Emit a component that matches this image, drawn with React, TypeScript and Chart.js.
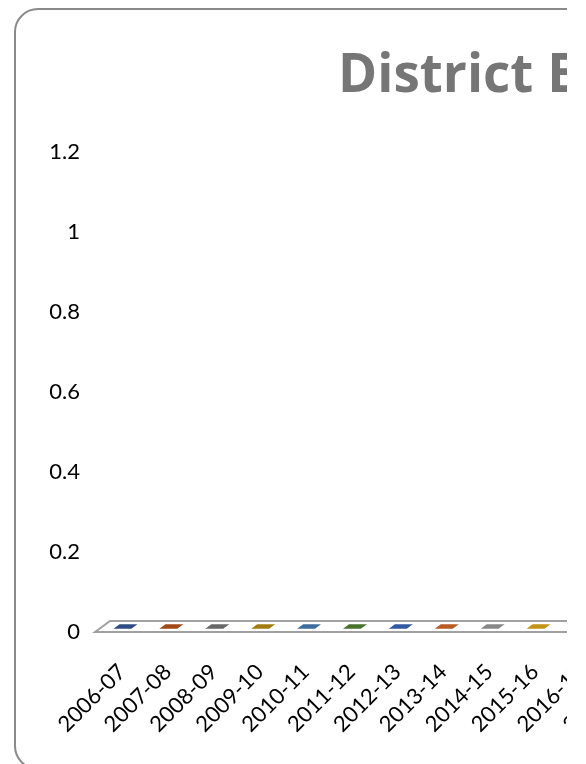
import React, { useEffect, useRef } from 'react';
import { Chart, registerables, layouts } from 'chart.js';

Chart.register(...registerables);

// ---- data ----
const TITLE = 'District Enrolment';
const categories = [
  '2006-07', '2007-08', '2008-09', '2009-10', '2010-11', '2011-12', '2012-13',
  '2013-14', '2014-15', '2015-16', '2016-17', '2017-18', '2018-19', '2019-20', '2020-21',
];
const values = [0, 0, 0, 0, 0, 0, 0, 0, 0, 0, 0, 0, 0, 0, 0];
const yMin = 0;
const yMax = 1.2;
const yStep = 0.2;

// ---- styles ----
const barColors = [
  '#2E4C86', '#A14A17', '#686868', '#A27C0C', '#3E6E9E', '#48722E', '#3358A2',
  '#BA5B23', '#878787', '#C29314', '#4F7FB8', '#5C8C3C', '#2E4C86', '#A14A17', '#686868',
];
const FONT = 'Lato';
const TITLE_FONT = 'Open Sans';
const TITLE_SIZE = 53;
const CANVAS_H = 756;
const TITLE_ORIGIN = 324; // canvas x where the title text begins
const AXIS_W = 81;
const CAT_W = 45.9;
const X_AXIS_H = 132;
const DEPTH_DX = 15;
const DEPTH_DY = -11;

export default function App() {
  const canvasRef = useRef<HTMLCanvasElement>(null);
  const boxRef = useRef<HTMLDivElement>(null);

  useEffect(() => {
    document.documentElement.style.overflow = 'hidden';
    const canvas = canvasRef.current as HTMLCanvasElement;
    const mctx = canvas.getContext('2d') as CanvasRenderingContext2D;
    mctx.font = `bold ${TITLE_SIZE}px "${TITLE_FONT}"`;
    const T = mctx.measureText(TITLE).width;
    const W = Math.round(2 * TITLE_ORIGIN + T);
    const spacerW = Math.max(0, W - AXIS_W - CAT_W * categories.length);

    canvas.width = W;
    canvas.height = CANVAS_H;
    canvas.style.width = W + 'px';
    canvas.style.height = CANVAS_H + 'px';
    if (boxRef.current) boxRef.current.style.width = W + 'px';

    const spacer: any = {
      position: 'right',
      weight: 0,
      fullSize: false,
      options: { stackWeight: 1 },
      width: 0, height: 0, left: 0, top: 0, right: 0, bottom: 0,
      isHorizontal() { return false; },
      update(_w: number, h: number) { this.width = spacerW; this.height = h; },
      draw() {},
    };

    const spacerPlugin = {
      id: 'rightSpacer',
      beforeInit(chart: any) { layouts.addBox(chart, spacer); },
    };

    const floorPlugin = {
      id: 'floor3d',
      beforeDatasetsDraw(chart: any) {
        const { ctx, chartArea } = chart;
        const y0 = chart.scales.y.getPixelForValue(0);
        const { left, right } = chartArea;
        ctx.save();
        ctx.beginPath();
        ctx.moveTo(left, y0);
        ctx.lineTo(left + DEPTH_DX, y0 + DEPTH_DY);
        ctx.lineTo(right + DEPTH_DX, y0 + DEPTH_DY);
        ctx.lineTo(right, y0);
        ctx.closePath();
        ctx.fillStyle = '#FFFFFF';
        ctx.fill();
        ctx.strokeStyle = '#A0A0A0';
        ctx.lineWidth = 2;
        ctx.stroke();
        ctx.restore();
      },
    };

    const bars3dPlugin = {
      id: 'bars3d',
      beforeDatasetDraw() { return false; },
      afterDatasetsDraw(chart: any) {
        const { ctx } = chart;
        const f0 = 0.3, f1 = 0.7;
        const fx = DEPTH_DX * f0, fy = DEPTH_DY * f0;
        const bx = DEPTH_DX * f1, by = DEPTH_DY * f1;
        ctx.save();
        chart.data.datasets.forEach((_ds: any, di: number) => {
          const meta = chart.getDatasetMeta(di);
          meta.data.forEach((el: any) => {
            const { x, y, base, width } = el.getProps(['x', 'y', 'base', 'width'], true);
            const color = el.options.backgroundColor;
            const l = x - width / 2;
            const r = x + width / 2;
            ctx.fillStyle = color;
            if (Math.abs(base - y) > 0.5) {
              ctx.fillRect(l + fx, y + fy, width, base - y);
              ctx.beginPath();
              ctx.moveTo(r + fx, y + fy);
              ctx.lineTo(r + bx, y + by);
              ctx.lineTo(r + bx, base + by);
              ctx.lineTo(r + fx, base + fy);
              ctx.closePath();
              ctx.fill();
            }
            ctx.beginPath();
            ctx.moveTo(l + fx, y + fy);
            ctx.lineTo(r + fx, y + fy);
            ctx.lineTo(r + bx, y + by);
            ctx.lineTo(l + bx, y + by);
            ctx.closePath();
            ctx.fill();
          });
        });
        ctx.restore();
      },
    };

    const chart = new Chart(canvas, {
      type: 'bar',
      data: {
        labels: categories,
        datasets: [
          {
            label: TITLE,
            data: values,
            backgroundColor: barColors,
            borderWidth: 0,
            barPercentage: 0.39,
            categoryPercentage: 1,
          },
        ],
      },
      options: {
        responsive: false,
        animation: false,
        events: [],
        layout: { padding: 0 },
        plugins: {
          legend: { display: false },
          tooltip: { enabled: false },
          title: {
            display: true,
            text: TITLE,
            color: '#767676',
            align: 'center',
            font: { family: TITLE_FONT, size: TITLE_SIZE, weight: 'bold', lineHeight: 1.2 },
            padding: { top: 37, bottom: 43 },
          },
        },
        scales: {
          x: {
            type: 'category',
            offset: true,
            grid: { display: false, drawTicks: false },
            border: { display: false },
            ticks: {
              autoSkip: false,
              minRotation: 45,
              maxRotation: 45,
              padding: 27,
              labelOffset: 4,
              color: '#000000',
              font: { family: FONT, size: 22 },
            },
            afterFit(scale: any) { scale.height = X_AXIS_H; },
          },
          y: {
            min: yMin,
            max: yMax,
            grid: { display: false, drawTicks: false },
            border: { display: false },
            ticks: {
              stepSize: yStep,
              padding: 15,
              color: '#000000',
              font: { family: FONT, size: 22 },
              callback: (v: any) => String(Math.round(Number(v) * 10) / 10),
            },
            afterFit(scale: any) { scale.width = AXIS_W; },
          },
        },
      },
      plugins: [spacerPlugin, floorPlugin, bars3dPlugin],
    } as any);

    return () => {
      chart.destroy();
    };
  }, []);

  return (
    <div style={{ position: 'relative', width: 559, height: 756, overflow: 'hidden' }}>
      <div
        ref={boxRef}
        style={{
          position: 'absolute',
          left: 6,
          top: 0,
          height: 762,
          boxSizing: 'border-box',
          border: '2px solid #8A8A8A',
          borderRadius: 24,
          background: '#FFFFFF',
        }}
      />
      <canvas ref={canvasRef} style={{ position: 'absolute', left: 6, top: 0 }} />
    </div>
  );
}
